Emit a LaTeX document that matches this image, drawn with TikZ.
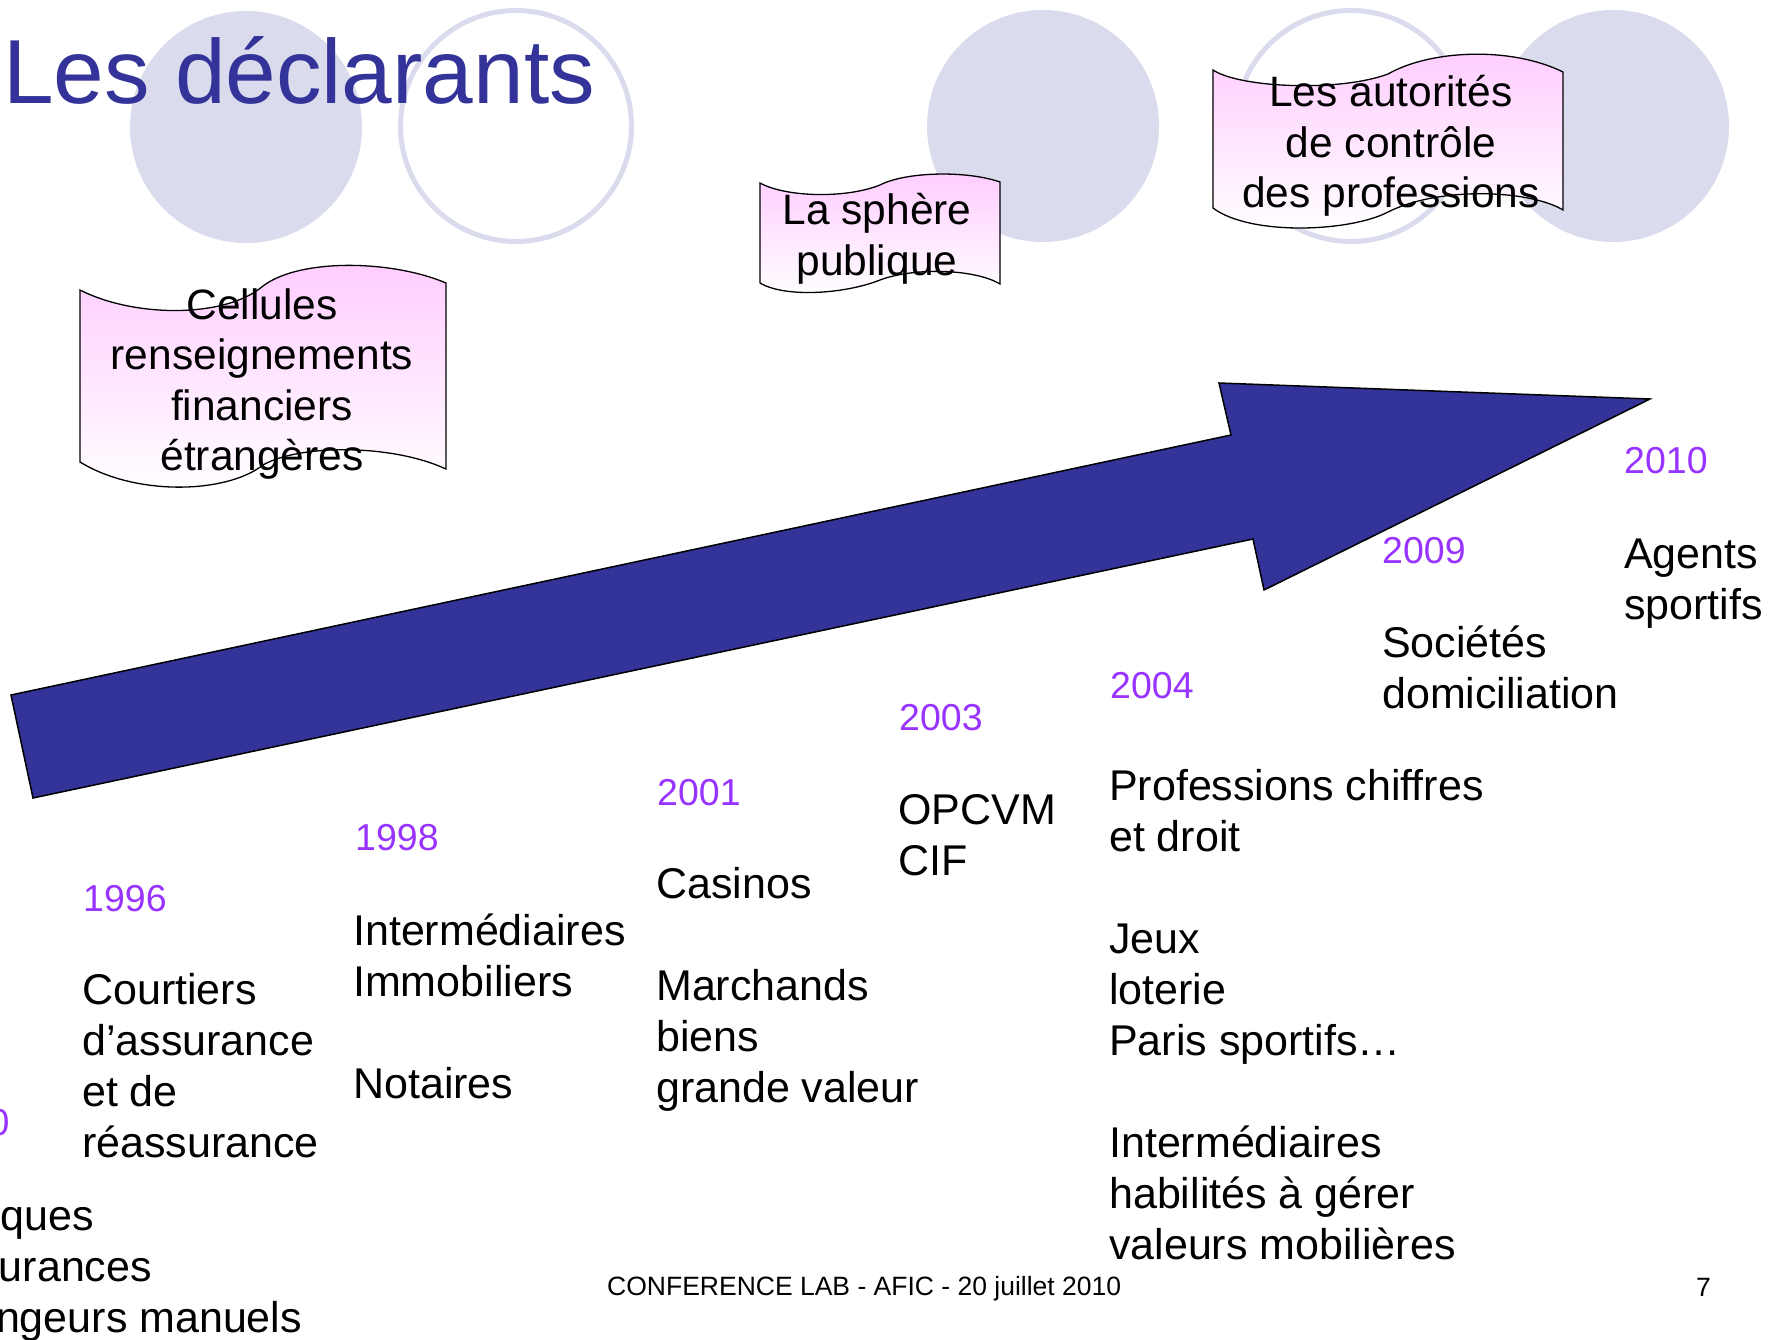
\documentclass[tikz,border=0pt]{standalone}
\usepackage{fontspec}
\setmainfont{Liberation Sans}
\definecolor{navy}{RGB}{51,51,153}
\definecolor{lav}{RGB}{219,219,238}
\definecolor{yr}{RGB}{153,51,255}
\definecolor{pinkt}{RGB}{255,204,255}
\newcommand\lblk[1]{\vtop{\halign{##\hfil\cr#1\crcr}}}
\newcommand\cblk[1]{\vtop{\halign{\hfil##\hfil\cr#1\crcr}}}
\tikzset{
  body/.style={inner sep=0pt, anchor=base west, font=\fontsize{43}{51}\selectfont},
  year/.style={inner sep=0pt, anchor=base west, text=yr, font=\fontsize{37.5}{45}\selectfont},
  foot/.style={inner sep=0pt, anchor=base west, font=\fontsize{26.5}{30}\selectfont},
  titletext/.style={inner sep=0pt, anchor=base west, text=navy, font=\fontsize{91}{100}\selectfont},
  scrolltext/.style={inner sep=0pt, anchor=base, font=\fontsize{42.5}{50.5}\selectfont},
  scrollbox/.style={draw=black, line width=1.3pt, top color=pinkt, bottom color=white},
  disc/.style={fill=lav},
  ring/.style={draw=lav, line width=5pt},
  bigarrow/.style={fill=navy, draw=black, line width=1.5pt, line join=miter},
}
\begin{document}
\begin{tikzpicture}[x=1pt,y=-1pt]
\useasboundingbox (0,0) rectangle (1771,1340);
\fill[white] (0,0) rectangle (1771,1340);
\clip (0,0) rectangle (1771,1340);
% decorative circles
\fill[disc] (246,127) circle[radius=116pt];
\draw[ring] (516,126) circle[radius=115.5pt];
\fill[disc] (1043,126) circle[radius=116pt];
\draw[ring] (1351,126) circle[radius=115.5pt];
\fill[disc] (1613,126) circle[radius=116pt];
% title
\node[titletext] (title) at (3,104) {Les déclarants};
% scrolls
\path[scrollbox] (80,290) .. controls (135,318) and (226,318) .. (263,286)
  .. controls (300,258) and (392,260) .. (446,283) -- (446,469)
  .. controls (392,444) and (300,444) .. (263,465)
  .. controls (226,494) and (135,496) .. (80,462) -- cycle;
\path[scrollbox] (760,183) .. controls (785,197) and (845,199) .. (880,185)
  .. controls (905,172) and (965,170) .. (1000,182) -- (1000,284)
  .. controls (975,269) and (915,267) .. (880,280)
  .. controls (845,294) and (785,298) .. (760,283) -- cycle;
\path[scrollbox] (1213,70) .. controls (1240,88) and (1340,92) .. (1388,74)
  .. controls (1430,50) and (1510,46) .. (1563,72) -- (1563,210)
  .. controls (1530,190) and (1440,186) .. (1388,212)
  .. controls (1350,232) and (1250,236) .. (1213,208) -- cycle;
\node[scrolltext] (cellules) at (262,319) {\cblk{Cellules\cr renseignements\cr financiers\cr étrangères}};
\node[scrolltext] (sphere) at (877,225) {\cblk{La sphère\cr publique}};
\node[scrolltext] (autorites) at (1391,107) {\cblk{Les autorités\cr de contrôle\cr des professions}};
% big arrow
\path[bigarrow] (11,695) -- (1231,435) -- (1219,383) -- (1650,399) -- (1264,590) -- (1253,539) -- (33,798) -- cycle;
% timeline texts
\node[year] (y1990) at (-74,1135) {1990};
\node[body] (c1990) at (-76,1230) {\lblk{Banques\cr \kern3pt Assurances\cr \kern-7pt Changeurs manuels}};
\node[year] (y1996) at (83,911) {1996};
\node[body] (c1996) at (82,1004) {\lblk{Courtiers\cr d’assurance\cr et de\cr réassurance}};
\node[year] (y1998) at (355,850) {1998};
\node[body] (c1998) at (353,945) {\lblk{Intermédiaires\cr Immobiliers\cr \cr Notaires}};
\node[year] (y2001) at (657,805) {2001};
\node[body] (c2001) at (656,898) {\lblk{Casinos\cr \cr Marchands\cr biens\cr grande valeur}};
\node[year] (y2003) at (899,730) {2003};
\node[body] (c2003) at (898,824) {\lblk{OPCVM\cr CIF}};
\node[year] (y2004) at (1110,698) {2004};
\node[body] (c2004) at (1109,800) {\lblk{Professions chiffres\cr et droit\cr \cr Jeux\cr loterie\cr Paris sportifs…\cr \cr Intermédiaires\cr habilités à gérer\cr valeurs mobilières}};
\node[year] (y2009) at (1382,563) {2009};
\node[body] (c2009) at (1382,657) {\lblk{Sociétés\cr domiciliation}};
\node[year] (y2010) at (1624,473) {2010};
\node[body] (c2010) at (1624,568) {\lblk{Agents\cr sportifs}};
% footer
\node[foot] (footer) at (607,1295) {CONFERENCE LAB - AFIC - 20 juillet 2010};
\node[foot] (pagenum) at (1696,1296) {7};
\end{tikzpicture}
\end{document}
